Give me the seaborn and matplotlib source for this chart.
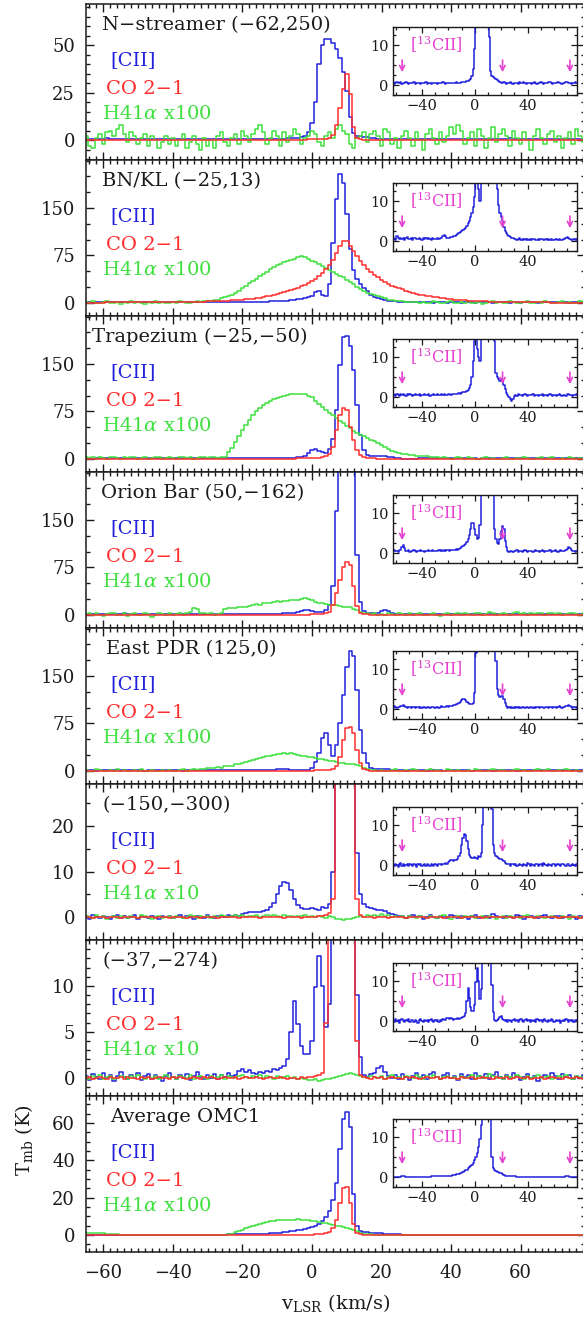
import numpy as np
import matplotlib
matplotlib.use("Agg")
import matplotlib.pyplot as plt
from matplotlib.ticker import MultipleLocator, FixedLocator
import seaborn as sns

# Velocity channels: 1 km/s wide, first channel centred at -65 km/s.
V0 = -65

# ---------------- N-streamer (-62,250) ----------------
cii_1 = [
    0.6, 0.8, 0.5, 0.7, 0.4, 0.6, 0.9, 0.5, 0.6, 0.7, 0.4, 0.6,   # -65..-54
    0.5, 0.7, 0.6, 0.4, 0.5, 0.6, 0.5, 0.7, 0.4, 0.5, 0.6, 0.5,   # -53..-42
    0.4, 0.6, 0.5, 0.5, 0.7, 0.4, 0.5, 0.6, 0.4, 0.5, 0.5, 0.6,   # -41..-30
    0.5, 0.4, 0.6, 0.5, 0.5, 0.7, 0.5, 0.4, 0.6, 0.5, 0.6, 0.5,   # -29..-18
    0.5, 0.6, 0.5, 0.7, 0.6, 0.5, 0.6, 0.8, 0.7, 0.8, 0.9, 1.0,   # -17..-6
    1.1, 1.3, 1.6, 2.2, 4.0, 9.0, 20, 40, 50, 53, 53, 51,         # -5..6
    48, 43, 36, 26, 12, 3.5, 2.2, 2.0, 1.8, 1.6, 1.3, 1.0,        # 7..18
    0.7, 0.6, 0.5, 0.7, 0.5, 0.4, 0.6, 0.5, 0.7, 0.5, 0.4, 0.6,   # 19..30
    0.5, 0.6, 0.4, 0.7, 0.5, 0.5, 0.8, 0.6, 0.4, 0.5, 0.6, 0.5,   # 31..42
    0.4, 0.6, 0.7, 0.5, 0.4, 0.6, 0.5, 0.7, 0.6, 0.4, 0.5, 0.6,   # 43..54
    0.5, 0.7, 0.9, 0.6, 0.4, 0.5, 0.6, 0.5, 0.7, 0.6, 0.5, 0.4,   # 55..66
    0.6, 0.5, 0.7, 0.8, 0.6, 0.5, 0.4, 0.6, 0.5, 0.7, 0.5, 0.6,   # 67..78
]
co_1 = [
    0, 0, 0, 0, 0, 0, 0, 0, 0, 0, 0, 0,
    0, 0, 0, 0, 0, 0, 0, 0, 0, 0, 0, 0,
    0, 0, 0, 0, 0, 0, 0, 0, 0, 0, 0, 0,
    0, 0, 0, 0, 0, 0, 0, 0, 0, 0, 0, 0,
    0, 0, 0, 0, 0, 0, 0, 0, 0, 0, 0.1, 0.1,
    0.1, 0.2, 0.2, 0.2, 0.3, 0.3, 0.4, 0.5, 0.6, 0.8, 1.2, 2.5,
    8, 17, 27, 35, 24, 7, 1.2, 0.4, 0.2, 0.1, 0.1, 0,
    0, 0, 0, 0, 0, 0, 0, 0, 0, 0, 0, 0,
    0, 0, 0, 0, 0, 0, 0, 0, 0, 0, 0, 0,
    0, 0, 0, 0, 0, 0, 0, 0, 0, 0, 0, 0,
    0, 0, 0, 0, 0, 0, 0, 0, 0, 0, 0, 0,
    0, 0, 0, 0, 0, 0, 0, 0, 0, 0, 0, 0,
]
h41_1 = [
    2, -3, -4, 1, 3, -2, 4, 5, 2, 6, 8, 3,
    -1, 4, 2, -2, 1, 3, -3, 2, 0, -4, -1, 2,
    -2, 1, -3, 0, 3, -4, -1, 2, -2, -5, 1, -3,
    0, -4, 2, 4, -1, -3, 1, 3, -2, 5, 2, -1,
    3, 6, 8, 4, -2, 1, 5, 2, -3, 4, -1, 2,
    6, 3, -2, 1, 2, 5, 3, -1, -3, 2, 4, 1,
    6, 8, 5, 3, -2, -4, 1, 2, 4, -1, 3, 5,
    2, -3, 6, 4, -2, 1, -4, 2, 5, 1, -3, 4,
    0, -5, 3, 6, 1, -2, 4, -1, 2, 7, 3, 8,
    5, -2, 1, 4, -3, 6, 2, -4, 1, 7, -1, 3,
    6, 2, -3, 5, 1, -2, 4, 0, -5, 2, 6, 1,
    -2, 3, 5, -1, 2, -4, 1, 4, -2, 6, 2, -1,
]

# ---------------- BN/KL (-25,13) ----------------
cii_2 = [
    0.5, 1.0, 0.3, 0.8, 0.6, 0.4, 1.2, 0.7, 0.5, 0.9, 0.6, 0.8,
    0.4, 0.7, 1.0, 0.6, 0.5, 0.8, 0.4, 0.7, 0.9, 0.5, 0.6, 0.8,
    0.6, 0.4, 0.7, 0.5, 0.9, 0.6, 0.8, 0.5, 0.4, 0.7, 0.6, 0.5,
    0.6, 0.8, 0.5, 0.7, 0.9, 1.2, 1.6, 1.2, 0.8, 0.7, 0.8, 1.0,
    1.0, 1.2, 1.3, 1.5, 1.8, 2.0, 2.2, 2.5, 2.8, 3.0, 3.4, 3.8,
    4.5, 5.2, 6.0, 7.0, 8.5, 11, 17, 18, 13, 10, 30, 95,
    165, 204, 190, 140, 85, 52, 37, 29, 23, 18, 13, 9,
    7, 6, 5, 3.5, 2.5, 2.0, 1.5, 1.2, 1.0, 0.8, 0.7, 0.6,
    0.6, 0.4, 0.5, 0.7, 0.3, 0.5, 0.4, 0.6, 0.3, 0.5, 0.4, 0.6,
    0.3, 0.5, 0.6, 0.4, 0.3, 0.5, 0.4, 0.6, 0.5, 0.3, 0.4, 0.5,
    0.4, 0.6, 0.3, 0.5, 0.4, 0.3, 0.5, 0.6, 0.4, 0.5, 0.3, 0.4,
    0.5, 0.6, 0.8, 1.0, 0.7, 0.5, 0.4, 0.3, 0.5, 0.4, 0.6, 0.3,
]
co_2 = [
    0.2, 0.2, 0.3, 0.3, 0.3, 0.3, 0.4, 0.4, 0.4, 0.4, 0.5, 0.5,
    0.5, 0.5, 0.6, 0.6, 0.6, 0.7, 0.7, 0.7, 0.8, 0.8, 0.9, 0.9,
    1.0, 1.0, 1.1, 1.2, 1.2, 1.3, 1.4, 1.5, 1.6, 1.7, 1.8, 2.0,
    2.1, 2.3, 2.5, 2.7, 3.0, 3.3, 3.6, 4.0, 4.4, 4.9, 5.4, 6.0,
    6.6, 7.3, 8.2, 9.1, 10, 11, 12.5, 14, 15.5, 17, 18.5, 20,
    22, 24, 26, 28, 31, 34, 38, 42, 47, 53, 60, 68,
    78, 90, 98, 97, 90, 82, 74, 66, 60, 54, 49, 44,
    40, 36, 33, 30, 27, 25, 23, 21, 19, 17.5, 16, 14.5,
    13, 12, 11, 10, 9.2, 8.4, 7.6, 6.9, 6.2, 5.6, 5.0, 4.5,
    4.1, 3.7, 3.3, 3.0, 2.7, 2.4, 2.2, 2.0, 1.8, 1.6, 1.4, 1.3,
    1.2, 1.1, 1.0, 0.9, 0.8, 0.7, 0.7, 0.6, 0.6, 0.5, 0.5, 0.4,
    0.4, 0.4, 0.3, 0.3, 0.3, 0.3, 0.2, 0.2, 0.2, 0.2, 0.2, 0.1,
]
h41_2 = [
    1, -1, 2, 0, -1, 1, 2, -1, 0, 1, -2, 1,
    0, 2, -1, 1, 0, -2, 1, 0, 2, -1, 1, 0,
    -1, 1, 0, 2, 1, -1, 0, 1, 2, 1, 2, 3,
    3, 4, 5, 7, 9, 11, 13, 16, 19, 23, 27, 31,
    34, 38, 42, 46, 49, 53, 56, 59, 61, 64, 66, 68,
    70, 72, 74, 73, 69, 66, 64, 61, 58, 55, 52, 49,
    46, 43, 40, 36, 33, 29, 25, 22, 19, 16, 14, 12,
    10, 9, 7, 5, 4, 3, 2.5, 2, 1.5, 1, 0.5, 1,
    0, 1, -1, 0, 2, 1, -1, 0, 1, 2, 0, -1,
    1, 0, 2, -1, 0, 1, -2, 0, 1, 2, 0, 1,
    -1, 0, 2, 1, -1, 0, 1, 2, 0, -1, 1, 0,
    2, 1, 0, -1, 1, 2, 0, 1, -1, 0, 2, 1,
]

# ---------------- Trapezium (-25,-50) ----------------
cii_3 = [
    0.5, 0.8, 0.3, 0.7, 0.5, 0.4, 0.9, 0.6, 0.4, 0.7, 0.5, 0.8,
    0.6, 0.4, 0.7, 0.5, 0.8, 0.6, 0.4, 0.5, 0.7, 0.6, 0.5, 0.7,
    0.4, 0.6, 0.5, 0.8, 0.6, 0.5, 0.7, 0.4, 0.6, 0.5, 0.7, 0.6,
    0.5, 0.7, 0.6, 0.5, 0.8, 0.6, 0.7, 0.5, 0.6, 0.8, 0.7, 0.6,
    0.7, 0.8, 0.7, 0.9, 0.8, 1.0, 0.9, 1.1, 1.2, 1.3, 1.4, 1.6,
    1.8, 2.2, 3.0, 5.0, 9.0, 14, 15, 12, 10, 9, 15, 32,
    77, 148, 192, 195, 178, 140, 85, 38, 14, 6, 5, 4.5,
    4.0, 4.5, 4.0, 3.0, 2.0, 1.0, 0.5, 0.0, -0.5, -1.0, -0.5, 0.3,
    0.5, 0.4, 0.7, 0.5, 0.6, 0.4, 0.5, 0.7, 0.6, 0.4, 0.5, 0.6,
    0.5, 0.7, 0.4, 0.6, 0.5, 0.3, 0.6, 0.5, 0.7, 0.4, 0.5, 0.6,
    0.4, 0.5, 0.7, 0.6, 0.4, 0.5, 0.6, 0.4, 0.5, 0.7, 0.5, 0.4,
    0.6, 0.5, 0.4, 0.7, 0.8, 0.6, 0.5, 0.4, 0.6, 0.5, 0.7, 0.5,
]
co_3 = [
    0, 0, 0, 0, 0, 0, 0, 0, 0, 0, 0, 0,
    0, 0, 0, 0, 0, 0, 0, 0, 0, 0, 0, 0,
    0, 0, 0, 0, 0, 0, 0, 0, 0, 0, 0, 0,
    0, 0, 0, 0, 0, 0, 0, 0, 0, 0, 0, 0,
    0, 0, 0, 0, 0, 0.1, 0.1, 0.1, 0.1, 0.2, 0.2, 0.2,
    0.3, 0.4, 0.5, 0.6, 0.8, 1.0, 1.3, 1.8, 2.5, 4, 7, 19,
    45, 69, 80, 77, 51, 30, 14, 6, 2.6, 1.2, 0.6, 0.4,
    0.2, 0.1, 0.1, 0, 0, 0, 0, 0, 0, 0, 0, 0,
    0, 0, 0, 0, 0, 0, 0, 0, 0, 0, 0, 0,
    0, 0, 0, 0, 0, 0, 0, 0, 0, 0, 0, 0,
    0, 0, 0, 0, 0, 0, 0, 0, 0, 0, 0, 0,
    0, 0, 0, 0, 0, 0, 0, 0, 0, 0, 0, 0,
]
h41_3 = [
    2, 1, 3, 0, 2, 1, -1, 2, 3, 1, 0, 2,
    1, 3, 2, 0, 1, 2, -1, 1, 3, 2, 0, 1,
    2, 1, 0, 2, 3, 1, 2, 0, 1, 3, 2, 1,
    2, 3, 1, 2, 3, 10, 17, 26, 36, 45, 54, 62,
    70, 76, 81, 85, 88, 91, 94, 96, 98, 100, 101, 102,
    102, 103, 103, 103, 100, 97, 92, 87, 82, 77, 73, 69,
    64, 60, 56, 52, 48, 44, 41, 38, 36, 33, 30, 28,
    25, 22, 19, 16, 13, 11, 9.5, 8, 7, 6.5, 6, 5,
    4.5, 4, 3.7, 3, 2.5, 2, 1.5, 2, 1, 0, 1, 2,
    1, 0, 2, 1, -1, 0, 1, 2, 0, 1, -1, 0,
    1, 2, 0, -1, 1, 0, 2, 1, 0, -1, 1, 2,
    0, 1, 2, 0, -1, 1, 0, 2, 1, 0, 1, -1,
]

# ---------------- Orion Bar (50,-162) ----------------
cii_4 = [
    0.5, 0.7, 0.4, 0.6, 0.8, 0.5, 0.6, 0.4, 0.7, 0.9, 1.5, 2.0,
    1.2, 0.6, 0.5, 0.7, 0.4, 0.6, 0.5, 0.7, 0.6, 0.4, 0.5, 0.6,
    0.7, 0.5, 0.6, 0.4, 0.6, 0.5, 0.7, 0.5, 0.6, 0.8, 0.5, 0.6,
    0.6, 0.5, 0.7, 0.6, 0.8, 0.6, 0.7, 0.5, 0.7, 0.8, 0.6, 0.8,
    0.7, 0.9, 0.8, 1.0, 0.9, 1.1, 1.3, 1.5, 1.8, 2.0, 2.3, 2.8,
    3.5, 4.5, 6.0, 7.5, 7.6, 6.0, 4.5, 3.6, 3.8, 7.0, 16, 45,
    165, 250, 290, 300, 290, 230, 95, 20, 6, 3.5, 2.6, 2.4,
    3.5, 5.5, 6.8, 6.0, 3.0, 1.5, 0.5, 0.4, 0.6, 0.5, 0.4, 0.6,
    0.5, 0.7, 0.4, 0.6, 0.5, 0.4, 0.6, 0.7, 0.5, 0.4, 0.6, 0.5,
    0.6, 0.4, 0.5, 0.7, 0.5, 0.6, 0.4, 0.5, 0.7, 0.6, 0.4, 0.5,
    0.6, 0.5, 0.7, 0.4, 0.5, 0.6, 0.8, 0.5, 0.4, 0.6, 0.7, 0.5,
    0.6, 0.5, 0.8, 1.1, 1.5, 1.2, 0.7, 0.5, 0.6, 0.4, 0.5, 0.6,
]
co_4 = [
    0, 0, 0, 0, 0, 0, 0, 0, 0, 0, 0, 0,
    0, 0, 0, 0, 0, 0, 0, 0, 0, 0, 0, 0,
    0, 0, 0, 0, 0, 0, 0, 0, 0, 0, 0, 0,
    0, 0, 0, 0, 0, 0, 0, 0, 0, 0, 0, 0,
    0, 0, 0, 0, 0, 0, 0, 0, 0, 0, 0.1, 0.1,
    0.1, 0.2, 0.2, 0.3, 0.3, 0.4, 0.5, 0.7, 1.0, 2.0, 5.0, 15,
    34, 55, 76, 84, 78, 46, 14, 3, 1.0, 0.4, 0.2, 0.1,
    0, 0, 0, 0, 0, 0, 0, 0, 0, 0, 0, 0,
    0, 0, 0, 0, 0, 0, 0, 0, 0, 0, 0, 0,
    0, 0, 0, 0, 0, 0, 0, 0, 0, 0, 0, 0,
    0, 0, 0, 0, 0, 0, 0, 0, 0, 0, 0, 0,
    0, 0, 0, 0, 0, 0, 0, 0, 0, 0, 0, 0,
]
h41_4 = [
    1, 3, -1, 2, 0, -2, 1, 3, 2, -1, 0, 2,
    -2, 1, 3, 0, -1, 2, 1, -3, 0, 2, 1, -1,
    2, 0, 1, 3, -1, 2, 4, 10, 9, 3, 2, 1,
    2, 0, 1, 3, 9, 10, 11, 10, 12, 13, 12, 14,
    15, 17, 16, 18, 19, 18, 20, 21, 20, 22, 21, 23,
    24, 23, 25, 26, 25, 24, 20, 19, 18, 17, 16, 16,
    15, 14, 13, 13, 12, 9, 7, 5, 3, 2, 1, 2,
    0, 1, -1, 2, 1, 0, 3, 1, -1, 2, 0, 1,
    2, -1, 0, 1, 3, 0, -2, 1, 2, 0, 1, 3,
    0, 2, 1, -1, 3, 2, 0, 1, 4, 2, 0, 1,
    3, 1, 0, 2, 4, 1, 3, 0, 2, 1, 3, 2,
    0, 2, 3, 1, 2, 0, 1, 3, 2, 1, 0, 2,
]

# ---------------- East PDR (125,0) ----------------
cii_5 = [
    0.4, 0.6, 0.5, 0.3, 0.7, 0.5, 0.4, 0.6, 0.5, 0.7, 0.9, 1.0,
    0.7, 0.5, 0.4, 0.6, 0.5, 0.3, 0.5, 0.6, 0.4, 0.5, 0.6, 0.4,
    0.5, 0.4, 0.6, 0.5, 0.3, 0.5, 0.6, 0.4, 0.5, 0.6, 0.5, 0.4,
    0.5, 0.6, 0.4, 0.5, 0.7, 0.5, 0.6, 0.5, 0.7, 0.6, 0.7, 0.8,
    0.8, 1.0, 1.1, 1.2, 1.4, 1.6, 1.9, 2.2, 2.5, 2.5, 2.2, 1.8,
    1.5, 1.3, 1.2, 1.3, 1.6, 4, 14, 28, 52, 60, 40, 24,
    40, 75, 120, 165, 190, 182, 128, 65, 28, 12, 5, 3.5,
    3.0, 3.3, 3.4, 2.5, 1.5, 0.8, 0.4, 0.5, 0.3, 0.6, 0.4, 0.5,
    0.4, 0.6, 0.3, 0.5, 0.4, 0.6, 0.5, 0.3, 0.5, 0.6, 0.4, 0.5,
    0.6, 0.4, 0.5, 0.3, 0.6, 0.5, 0.4, 0.6, 0.5, 0.3, 0.4, 0.6,
    0.5, 0.4, 0.6, 0.5, 0.3, 0.5, 0.6, 0.4, 0.5, 0.7, 0.5, 0.4,
    0.6, 0.5, 0.7, 0.9, 1.1, 0.8, 0.5, 0.4, 0.6, 0.5, 0.4, 0.5,
]
co_5 = [
    0, 0, 0, 0, 0, 0, 0, 0, 0, 0, 0, 0,
    0, 0, 0, 0, 0, 0, 0, 0, 0, 0, 0, 0,
    0, 0, 0, 0, 0, 0, 0, 0, 0, 0, 0, 0,
    0, 0, 0, 0, 0, 0, 0, 0, 0, 0, 0, 0,
    0, 0, 0, 0, 0, 0, 0, 0, 0, 0, 0.1, 0.1,
    0.1, 0.1, 0.2, 0.2, 0.3, 0.3, 0.4, 0.5, 0.6, 0.8, 1.2, 2.5,
    7, 22, 49, 67, 70, 59, 33, 12, 2, 0.8, 0.3, 0.2,
    0.1, 0, 0, 0, 0, 0, 0, 0, 0, 0, 0, 0,
    0, 0, 0, 0, 0, 0, 0, 0, 0, 0, 0, 0,
    0, 0, 0, 0, 0, 0, 0, 0, 0, 0, 0, 0,
    0, 0, 0, 0, 0, 0, 0, 0, 0, 0, 0, 0,
    0, 0, 0, 0, 0, 0, 0, 0, 0, 0, 0, 0,
]
h41_5 = [
    1, -1, 0, 2, 1, -1, 0, 1, -1, 2, 0, 1,
    0, -1, 1, 0, 2, -1, 0, 1, 0, -1, 1, 0,
    1, 0, -1, 1, 2, 0, 1, 2, 1, 3, 2, 4,
    4, 5, 6, 5, 7, 8, 8, 10, 11, 12, 14, 15,
    17, 19, 20, 21, 23, 24, 25, 26, 27, 28, 27, 28,
    26, 25, 24, 23, 22, 21, 20, 19, 18, 17, 16, 15,
    14, 13, 12, 11, 11, 10, 9, 7, 5, 3, 1, 0.5,
    0, 1, -1, 0, 1, 2, 0, -1, 1, 0, 2, 1,
    0, -1, 1, 2, 0, 1, -1, 0, 2, 1, 0, 1,
    -1, 0, 1, 0, 2, 1, -1, 0, 1, 2, 0, 1,
    1, 0, -1, 1, 2, 0, 1, -1, 0, 1, 2, 0,
    1, 2, 0, -1, 1, 0, 2, 1, 0, 1, -1, 0,
]

# ---------------- (-150,-300) ----------------
cii_6 = [
    0.2, -0.3, 0.4, 0.1, -0.2, 0.3, 0.0, -0.4, 0.2, 0.5, -0.1, 0.3,
    -0.2, 0.1, 0.4, -0.3, 0.2, 0.0, -0.1, 0.3, 0.1, -0.4, 0.2, 0.0,
    0.3, -0.2, 0.1, 0.4, -0.1, 0.2, 0.0, -0.3, 0.3, 0.1, -0.2, 0.4,
    0.1, -0.1, 0.3, 0.2, 0.0, 0.4, 0.2, 0.5, 0.3, 0.8, 1.0, 1.2,
    1.2, 1.1, 1.2, 1.4, 1.6, 2.2, 3.2, 5.0, 6.8, 7.8, 7.6, 6.0,
    4.0, 2.6, 2.0, 1.7, 1.8, 2.0, 1.9, 1.6, 2.3, 2.0, 3.0, 10,
    30, 40, 42, 41, 38, 30, 14, 5, 3.0, 2.3, 2.0, 1.8,
    1.6, 1.5, 1.3, 1.0, 0.6, 0.4, 0.2, 0.3, -0.1, 0.2, 0.4, 0.0,
    0.2, -0.3, 0.1, 0.4, 0.0, -0.2, 0.3, 0.1, -0.1, 0.5, 0.2, -0.2,
    0.3, 0.0, -0.3, 0.2, 0.4, -0.1, 0.1, 0.3, -0.2, 0.6, 0.2, 0.0,
    -0.2, 0.3, 0.1, -0.1, 0.4, 0.2, -0.3, 0.1, 0.3, 0.0, -0.2, 0.2,
    0.4, 0.1, -0.1, 0.3, 0.2, -0.2, 0.0, 0.4, 0.1, -0.3, 0.2, 0.1,
]
co_6 = [
    0.1, 0.0, -0.1, 0.1, 0.0, 0.1, -0.1, 0.0, 0.1, 0.0, -0.1, 0.1,
    0.0, 0.1, 0.0, -0.1, 0.1, 0.0, 0.0, 0.1, -0.1, 0.0, 0.1, 0.0,
    -0.1, 0.0, 0.1, 0.0, 0.1, -0.1, 0.0, 0.1, 0.0, -0.1, 0.0, 0.1,
    0.0, 0.1, -0.1, 0.0, 0.1, 0.0, 0.1, 0.0, -0.1, 0.1, 0.0, 0.0,
    0.1, 0.0, -0.1, 0.0, 0.1, 0.0, 0.0, 0.1, 0.0, -0.1, 0.1, 0.0,
    0.0, 0.1, -0.1, 0.0, 0.1, 0.0, 0.1, 0.2, 0.3, 0.5, 1.0, 4.0,
    30, 45, 48, 46, 40, 35, 4, 0.5, 0.1, 0.0, 0.1, -0.1,
    0.0, 0.1, 0.0, -0.1, 0.1, 0.0, 0.0, 0.1, -0.1, 0.0, 0.1, 0.0,
    0.1, 0.0, -0.1, 0.0, 0.1, 0.0, 0.1, -0.1, 0.0, 0.1, 0.0, 0.0,
    -0.1, 0.0, 0.1, 0.0, 0.0, 0.1, -0.1, 0.0, 0.1, 0.0, 0.0, 0.1,
    0.0, 0.1, 0.0, -0.1, 0.0, 0.1, 0.0, 0.0, 0.1, -0.1, 0.0, 0.1,
    0.0, 0.0, 0.1, 0.0, -0.1, 0.1, 0.0, 0.0, 0.1, 0.0, -0.1, 0.0,
]
h41_6 = [
    0.3, 0.1, -0.2, 0.4, 0.0, 0.2, -0.3, 0.1, 0.3, -0.1, 0.2, 0.0,
    -0.2, 0.3, 0.1, -0.1, 0.4, 0.2, 0.0, -0.3, 0.1, 0.3, -0.2, 0.1,
    0.2, -0.1, 0.3, 0.0, -0.2, 0.1, 0.4, 0.2, -0.1, 0.3, 0.0, 0.2,
    -0.1, 0.3, 0.1, 0.4, 0.2, 0.0, 0.3, 0.5, 0.2, 0.4, 0.1, 0.3,
    0.2, 0.4, 0.1, 0.3, 0.5, 0.2, 0.4, 0.3, 0.1, 0.4, 0.2, 0.3,
    0.1, 0.3, 0.2, 0.4, 0.1, 0.2, 0.0, 0.3, 0.1, -0.1, 0.2, 0.0,
    -0.3, -0.5, -0.6, -0.5, -0.4, -0.2, 0.0, 0.3, 0.1, 0.4, 0.2, 0.5,
    0.3, 0.6, 0.2, 0.4, 0.1, 0.3, 0.0, 0.2, -0.1, 0.3, 0.1, -0.2,
    0.2, 0.0, -0.2, 0.3, 0.1, -0.1, 0.2, 0.4, 0.0, -0.3, 0.1, 0.2,
    -0.1, 0.3, 0.0, 0.2, -0.2, 0.1, 0.3, -0.1, 0.2, 0.0, -0.3, 0.1,
    0.2, -0.1, 0.3, 0.0, 0.1, -0.2, 0.2, 0.4, 0.0, -0.1, 0.2, 0.1,
    -0.2, 0.1, 0.3, 0.0, -0.1, 0.2, 0.1, -0.3, 0.2, 0.0, 0.1, -0.1,
]

# ---------------- (-37,-274) ----------------
cii_7 = [
    0.2, -0.3, 0.4, 0.1, -0.2, 0.5, 0.0, 0.3, -0.4, 0.2, 0.6, 0.1,
    -0.2, 0.3, 0.0, 0.5, -0.3, 0.2, 0.4, -0.1, 0.3, 0.0, -0.4, 0.2,
    0.5, 0.1, -0.2, 0.3, 0.0, 0.4, -0.3, 0.2, 0.6, 0.1, -0.1, 0.3,
    0.0, 0.4, -0.2, 0.3, 0.1, 0.5, 0.2, 0.3, 0.7, 0.9, 0.6, 0.8,
    0.5, 0.4, 0.6, 0.5, 0.7, 0.6, 0.9, 0.8, 1.0, 1.3, 2.0, 5.0,
    8.3, 5.8, 3.5, 2.6, 2.6, 4.0, 9.9, 13.3, 10.0, 5.5, 8.0, 20,
    25, 30, 32, 30, 26, 20, 9, 2.3, 0.3, 0.1, 0.4, 0.5,
    1.0, 1.3, 0.6, 0.2, 0.0, 0.3, -0.2, 0.4, 0.1, -0.3, 0.2, 0.5,
    0.0, 0.3, -0.2, 0.4, 0.6, 0.1, -0.1, 0.3, 0.5, 0.0, 0.2, -0.3,
    0.4, 0.1, 0.3, -0.2, 0.5, 0.2, 0.0, 0.4, -0.1, 0.3, 0.6, 0.1,
    -0.2, 0.3, 0.0, 0.5, 0.2, -0.3, 0.1, 0.4, 0.0, 0.2, -0.4, 0.1,
    0.3, 0.0, 0.5, 0.2, -0.2, 0.4, 0.1, 0.3, -0.1, 0.2, 0.0, 0.3,
]
co_7 = [
    0.0, 0.1, -0.1, 0.0, 0.1, 0.0, -0.1, 0.1, 0.0, 0.0, 0.1, -0.1,
    0.1, 0.0, 0.0, -0.1, 0.1, 0.0, 0.1, -0.1, 0.0, 0.1, 0.0, 0.0,
    -0.1, 0.1, 0.0, 0.1, 0.0, -0.1, 0.0, 0.1, 0.0, -0.1, 0.1, 0.0,
    0.1, 0.0, -0.1, 0.0, 0.1, 0.0, 0.0, 0.1, -0.1, 0.0, 0.1, 0.0,
    0.0, 0.1, 0.0, -0.1, 0.0, 0.1, 0.0, 0.0, 0.1, 0.0, -0.1, 0.0,
    0.0, -0.1, 0.1, 0.0, 0.1, 0.1, 0.2, 0.3, 0.5, 6.0, 20, 30,
    36, 40, 42, 40, 35, 25, 4, 0.3, 0.1, 0.0, -0.1, 0.1,
    0.0, 0.1, -0.1, 0.0, 0.1, 0.0, 0.0, -0.1, 0.1, 0.0, 0.1, 0.0,
    -0.1, 0.0, 0.1, 0.0, 0.0, 0.1, -0.1, 0.0, 0.1, 0.0, 0.0, -0.1,
    0.1, 0.0, 0.0, 0.1, -0.1, 0.0, 0.1, 0.0, 0.0, -0.1, 0.1, 0.0,
    0.0, 0.1, -0.1, 0.0, 0.1, 0.0, 0.0, 0.1, -0.1, 0.0, 0.0, 0.1,
    -0.1, 0.0, 0.1, 0.0, 0.0, -0.1, 0.1, 0.0, 0.0, 0.1, 0.0, -0.1,
]
h41_7 = [
    0.1, -0.2, 0.2, 0.0, 0.3, -0.1, 0.1, 0.2, -0.2, 0.0, 0.2, 0.1,
    -0.1, 0.2, 0.0, 0.3, 0.1, -0.2, 0.1, 0.0, 0.2, -0.1, 0.1, 0.3,
    0.0, 0.1, -0.2, 0.2, 0.1, 0.0, 0.3, -0.1, 0.1, 0.2, 0.0, -0.1,
    0.2, 0.0, 0.1, 0.3, -0.1, 0.2, 0.1, 0.0, 0.2, 0.3, 0.1, 0.0,
    0.2, 0.1, 0.3, 0.0, 0.2, 0.1, -0.1, 0.2, 0.0, 0.1, 0.2, 0.0,
    0.1, -0.1, 0.0, -0.2, -0.3, -0.3, -0.2, -0.4, -0.3, -0.2, -0.1, 0.0,
    0.1, 0.2, 0.3, 0.4, 0.5, 0.4, 0.3, 0.2, 0.1, 0.0, 0.2, 0.1,
    0.0, 0.2, -0.1, 0.1, 0.3, 0.0, 0.1, -0.2, 0.2, 0.1, 0.0, 0.3,
    0.1, -0.1, 0.2, 0.0, 0.3, 0.1, -0.2, 0.1, 0.2, 0.0, 0.1, -0.1,
    0.2, 0.0, 0.1, 0.3, -0.1, 0.2, 0.0, 0.1, 0.4, 0.2, 0.0, 0.1,
    -0.1, 0.2, 0.1, 0.0, 0.3, 0.1, -0.2, 0.2, 0.0, 0.1, 0.3, 0.0,
    0.1, 0.2, -0.1, 0.0, 0.2, 0.1, 0.3, 0.0, -0.1, 0.2, 0.1, 0.0,
]

# ---------------- Average OMC1 ----------------
cii_8 = [
    0.1, 0.1, 0.1, 0.1, 0.1, 0.1, 0.1, 0.1, 0.1, 0.1, 0.2, 0.2,
    0.2, 0.1, 0.1, 0.1, 0.1, 0.1, 0.1, 0.1, 0.1, 0.1, 0.1, 0.1,
    0.1, 0.1, 0.1, 0.1, 0.1, 0.1, 0.1, 0.1, 0.2, 0.2, 0.2, 0.2,
    0.2, 0.2, 0.2, 0.2, 0.2, 0.3, 0.3, 0.3, 0.3, 0.3, 0.4, 0.4,
    0.5, 0.5, 0.6, 0.7, 0.8, 0.9, 1.0, 1.1, 1.3, 1.5, 1.7, 1.9,
    2.2, 2.5, 2.8, 3.2, 3.7, 4.3, 5.0, 6.0, 7.5, 9.5, 13, 19,
    28, 46, 62, 66, 58, 22, 5, 2.2, 1.8, 1.5, 1.3, 1.2,
    1.1, 1.0, 0.7, 0.5, 0.4, 0.3, 0.3, 0.2, 0.2, 0.2, 0.2, 0.2,
    0.2, 0.1, 0.1, 0.1, 0.1, 0.1, 0.1, 0.1, 0.1, 0.1, 0.1, 0.1,
    0.1, 0.1, 0.1, 0.1, 0.1, 0.1, 0.1, 0.1, 0.1, 0.1, 0.1, 0.1,
    0.1, 0.1, 0.1, 0.1, 0.1, 0.1, 0.1, 0.1, 0.1, 0.1, 0.1, 0.1,
    0.1, 0.1, 0.2, 0.2, 0.2, 0.1, 0.1, 0.1, 0.1, 0.1, 0.1, 0.1,
]
co_8 = [
    0, 0, 0, 0, 0, 0, 0, 0, 0, 0, 0, 0,
    0, 0, 0, 0, 0, 0, 0, 0, 0, 0, 0, 0,
    0, 0, 0, 0, 0, 0, 0, 0, 0, 0, 0, 0,
    0, 0, 0, 0, 0, 0, 0, 0, 0, 0, 0, 0,
    0, 0, 0, 0, 0, 0, 0, 0, 0, 0, 0, 0,
    0.0, 0.1, 0.1, 0.1, 0.2, 0.2, 0.3, 0.4, 0.6, 0.9, 1.5, 3.5,
    8, 17, 25, 26, 17, 6, 1.2, 0.4, 0.2, 0.1, 0.1, 0.1,
    0, 0, 0, 0, 0, 0, 0, 0, 0, 0, 0, 0,
    0, 0, 0, 0, 0, 0, 0, 0, 0, 0, 0, 0,
    0, 0, 0, 0, 0, 0, 0, 0, 0, 0, 0, 0,
    0, 0, 0, 0, 0, 0, 0, 0, 0, 0, 0, 0,
    0, 0, 0, 0, 0, 0, 0, 0, 0, 0, 0, 0,
]
h41_8 = [
    1.0, 1.1, 0.9, 1.0, 1.2, 0.9, 0.8, 0.6, 0.4, 0.3, 0.2, 0.1,
    0.1, 0.0, 0.1, 0.0, -0.1, 0.0, 0.1, 0.0, -0.1, 0.0, 0.0, 0.1,
    0.0, -0.1, 0.0, 0.1, 0.0, 0.0, -0.1, 0.0, 0.1, 0.0, 0.1, 0.0,
    0.0, 0.1, 0.0, 0.1, 0.2, 0.4, 0.8, 1.5, 2.2, 2.9, 3.6, 4.3,
    5.0, 5.6, 6.1, 6.6, 7.0, 7.3, 7.6, 7.8, 8.0, 8.1, 8.2, 8.3,
    8.3, 8.4, 8.3, 8.2, 8.0, 7.7, 7.4, 7.1, 6.7, 6.3, 5.9, 5.5,
    5.1, 4.7, 4.3, 3.8, 3.3, 2.6, 1.9, 1.3, 0.8, 0.5, 0.3, 0.2,
    0.1, 0.0, 0.1, 0.0, -0.1, 0.0, 0.1, 0.0, 0.0, 0.1, 0.0, -0.1,
    0.0, 0.1, 0.0, 0.0, 0.1, -0.1, 0.0, 0.1, 0.0, 0.0, 0.1, 0.0,
    -0.1, 0.0, 0.1, 0.0, 0.0, 0.1, 0.0, -0.1, 0.0, 0.1, 0.0, 0.0,
    0.1, 0.0, 0.0, 0.1, -0.1, 0.0, 0.1, 0.0, 0.0, 0.1, 0.0, 0.0,
    0.0, 0.1, 0.0, -0.1, 0.0, 0.1, 0.0, 0.0, 0.1, 0.0, 0.0, 0.1,
]

titles = ["N\u2212streamer (\u221262,250)", "BN/KL (\u221225,13)",
          "Trapezium (\u221225,\u221250)", "Orion Bar (50,\u2212162)",
          "East PDR (125,0)", "(\u2212150,\u2212300)", "(\u221237,\u2212274)",
          "Average OMC1"]
cii_series = [cii_1, cii_2, cii_3, cii_4, cii_5, cii_6, cii_7, cii_8]
co_series = [co_1, co_2, co_3, co_4, co_5, co_6, co_7, co_8]
h41_series = [h41_1, h41_2, h41_3, h41_4, h41_5, h41_6, h41_7, h41_8]
h41_scale = ["x100", "x100", "x100", "x100", "x100", "x10", "x10", "x100"]
y_ranges = [(-10.5, 71.6), (-21, 226), (-21, 226), (-21, 226), (-21, 226),
            (-5, 29.2), (-2, 15), (-9.1, 74.5)]
y_major = [[0, 25, 50], [0, 75, 150], [0, 75, 150], [0, 75, 150],
           [0, 75, 150], [0, 10, 20], [0, 5, 10], [0, 20, 40, 60]]
y_minor = [5, 25, 25, 25, 25, 5, 1, 5]
x_ticks = [-60, -40, -20, 0, 20, 40, 60]
inset_x_ticks = [-40, 0, 40]
inset_y_ticks = [0, 10]
c13_arrows = [-55, 21, 72]   # [13CII] hyperfine positions (km/s)

# ---------------- styling ----------------
sns.set_style("ticks")
plt.rcParams["font.family"] = ["DejaVu Serif"]
plt.rcParams["mathtext.fontset"] = "dejavuserif"

C_CII = "#2222dd"
C_CO = "#ff2e2e"
C_H41 = "#3ee03e"
C_MAG = "#e640d0"
INK = "#1a1a1a"
LW = 1.1

W, H = 583, 1325
fig = plt.figure(figsize=(W / 100, H / 100), dpi=100)

left_px, right_px, top_px, panel_px = 86, 585, 4, 156
title_x_px = [102, 102, 92, 101, 106, 102, 102, 110]

def frac_x(px):
    return (px - left_px) / (right_px - left_px)

for k in range(8):
    bottom_px = top_px + panel_px * (k + 1)
    ax = fig.add_axes([left_px / W, 1 - bottom_px / H,
                       (right_px - left_px) / W, panel_px / H])
    v = V0 + np.arange(len(cii_series[k]))

    sns.lineplot(x=v, y=np.asarray(cii_series[k], float), ax=ax, color=C_CII,
                 lw=LW, drawstyle="steps-mid", estimator=None, legend=False)
    sns.lineplot(x=v, y=np.asarray(h41_series[k], float), ax=ax, color=C_H41,
                 lw=LW, drawstyle="steps-mid", estimator=None, legend=False)
    sns.lineplot(x=v, y=np.asarray(co_series[k], float), ax=ax, color=C_CO,
                 lw=LW, drawstyle="steps-mid", estimator=None, legend=False)

    ax.set_xlim(-65, 78.5)
    ax.set_ylim(*y_ranges[k])
    ax.xaxis.set_major_locator(FixedLocator(x_ticks + [80]))
    ax.xaxis.set_minor_locator(MultipleLocator(2))
    ax.yaxis.set_major_locator(FixedLocator(y_major[k]))
    ax.yaxis.set_minor_locator(MultipleLocator(y_minor[k]))
    ax.tick_params(which="both", direction="in", top=True, right=True,
                   colors=INK, labelsize=13, width=1.0)
    ax.tick_params(which="major", length=6)
    ax.tick_params(which="minor", length=3)
    ax.tick_params(axis="y", pad=8)
    ax.tick_params(axis="x", pad=9)
    for s in ax.spines.values():
        s.set_linewidth(1.1)
        s.set_color(INK)
    ax.set_xlabel("")
    ax.set_ylabel("")
    if k < 7:
        ax.tick_params(axis="x", labelbottom=False)

    ax.text(frac_x(title_x_px[k]), 0.866, titles[k], transform=ax.transAxes,
            fontsize=14, color=INK, va="center", ha="left")
    ax.text(frac_x(110), 0.643, "[CII]", transform=ax.transAxes,
            fontsize=14, color=C_CII, va="center", ha="left")
    ax.text(frac_x(106), 0.458, "CO 2\u22121", transform=ax.transAxes,
            fontsize=14, color=C_CO, va="center", ha="left")
    ax.text(frac_x(102), 0.295, r"H41$\alpha$ " + h41_scale[k],
            transform=ax.transAxes, fontsize=14, color=C_H41,
            va="center", ha="left")

    # [CII] zoom showing the faint [13CII] satellites
    ins = ax.inset_axes([0.615, 0.415, 0.368, 0.435])
    ins.set_facecolor("white")
    sns.lineplot(x=v, y=np.asarray(cii_series[k], float), ax=ins, color=C_CII,
                 lw=LW, drawstyle="steps-mid", estimator=None, legend=False)
    ins.set_xlim(-62, 77)
    ins.set_ylim(-2.5, 14.5)
    ins.xaxis.set_major_locator(FixedLocator(inset_x_ticks))
    ins.xaxis.set_minor_locator(MultipleLocator(10))
    ins.yaxis.set_major_locator(FixedLocator(inset_y_ticks))
    ins.yaxis.set_minor_locator(MultipleLocator(2.5))
    ins.tick_params(which="both", direction="in", top=True, right=True,
                    colors=INK, labelsize=10.5, width=0.9, pad=3)
    ins.tick_params(which="major", length=4)
    ins.tick_params(which="minor", length=2)
    for s in ins.spines.values():
        s.set_linewidth(1.0)
        s.set_color(INK)
    ins.set_xlabel("")
    ins.set_ylabel("")
    ins.text(-49, 10.3, r"[$^{13}$CII]", color=C_MAG, fontsize=11.5,
             ha="left", va="center")
    for xa in c13_arrows:
        ins.annotate("", xy=(xa, 2.6), xytext=(xa, 7.0),
                     arrowprops=dict(arrowstyle="->,head_length=0.35,head_width=0.18",
                                     color=C_MAG, lw=1.2))

fig.text(336 / W, 1 - 1303 / H, r"v$_{\rm LSR}$ (km/s)", fontsize=14,
         ha="center", va="center", color=INK)
fig.text(24 / W, 1 - 1140 / H, r"T$_{\rm mb}$ (K)", fontsize=14,
         rotation=90, ha="center", va="center", color=INK)

fig.savefig("out.png", dpi=100, facecolor="white")
